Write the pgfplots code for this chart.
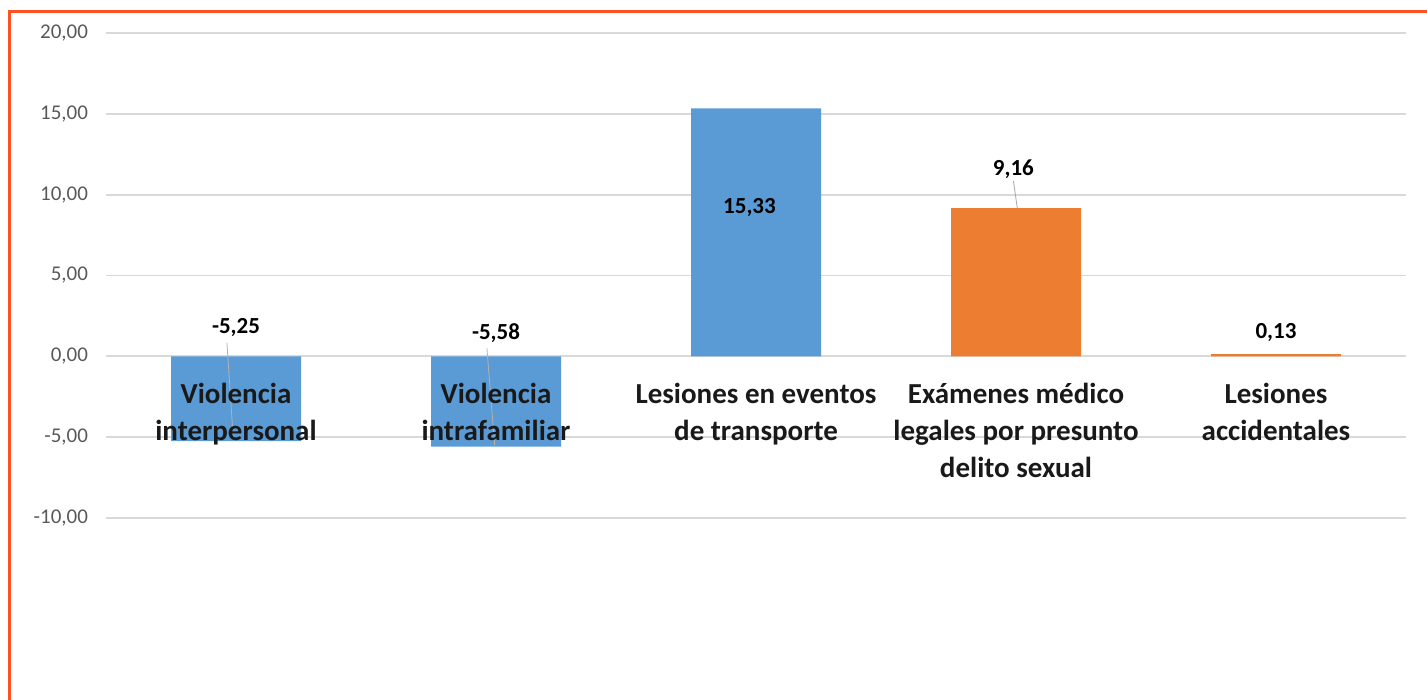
\documentclass[border=0pt]{standalone}
\usepackage{fontspec}
\setmainfont{Carlito}
\usepackage{pgfplots}
\pgfplotsset{compat=1.18}
\definecolor{barblue}{HTML}{5B9BD5}
\definecolor{barorange}{HTML}{ED7D31}
\definecolor{gridgray}{HTML}{D9D9D9}
\definecolor{ticktext}{HTML}{595959}
\definecolor{frame}{HTML}{FF5224}
\pgfplotsset{
  layers/labelsontop/.define layer set={
    axis background,axis grid,main,axis ticks,axis lines,axis tick labels,axis descriptions,axis foreground
  }{/pgfplots/layers/standard},
}
\begin{document}
\begin{tikzpicture}
\begin{axis}[
  set layers=labelsontop,
  at={(0,0)}, anchor=south west,
  scale only axis,
  width=650pt, height=242.5pt,
  xmin=-0.5, xmax=4.5,
  ymin=-10, ymax=20,
  axis line style={draw=none},
  major tick length=0pt,
  ymajorgrids,
  grid style={gridgray, line width=0.9pt},
  ytick={-10,-5,0,5,10,15,20},
  yticklabels={{-10,00},{-5,00},{0,00},{5,00},{10,00},{15,00},{20,00}},
  yticklabel style={font=\fontsize{10.5}{12}\selectfont, text=ticktext, anchor=east, xshift=-5.5pt},
  xtick={0,1,2,3,4},
  xticklabels={{Violencia\\interpersonal},{Violencia\\intrafamiliar},{Lesiones en eventos\\de transporte},{Exámenes médico\\legales por presunto\\delito sexual},{Lesiones\\accidentales}},
  xticklabel style={font=\fontsize{14.5}{18.5}\selectfont\bfseries, text=black!90, align=center, anchor=north, yshift=71.1pt},
  clip=false,
]
\addplot[ybar, bar width=65pt, bar shift=0pt, fill=barblue, draw=none] coordinates {(0,-5.25) (1,-5.58) (2,15.33)};
\addplot[ybar, bar width=65pt, bar shift=0pt, fill=barorange, draw=none] coordinates {(3,9.16) (4,0.13)};
% leader lines
\draw[gray!60, line width=0.4pt] (axis cs:-0.035,0.85) -- (axis cs:-0.01,-5.2);
\draw[gray!60, line width=0.4pt] (axis cs:0.965,0.5) -- (axis cs:0.995,-5.5);
\draw[gray!70, line width=0.4pt] (axis cs:2.99,10.85) -- (axis cs:3.005,9.16);
% data labels
\addplot[only marks, mark=*, mark size=0pt, mark options={draw=none, fill=none},
  point meta=explicit symbolic,
  nodes near coords, nodes near coords align={center},
  every node near coord/.append style={font=\fontsize{11.5}{13}\selectfont\bfseries, text=black, anchor=center}]
  table[meta=lab] {
x y lab
0 1.8 -5,25
1 1.42 -5,58
1.975 9.2 15,33
2.99 11.6 9,16
4 1.48 0,13
};
\end{axis}
\useasboundingbox (-53pt,-91pt) rectangle (660.5pt,259pt);
\draw[frame, line width=1.5pt] (-48.25pt,-92pt) -- (-48.25pt,253pt) -- (662pt,253pt);
\end{tikzpicture}
\end{document}
